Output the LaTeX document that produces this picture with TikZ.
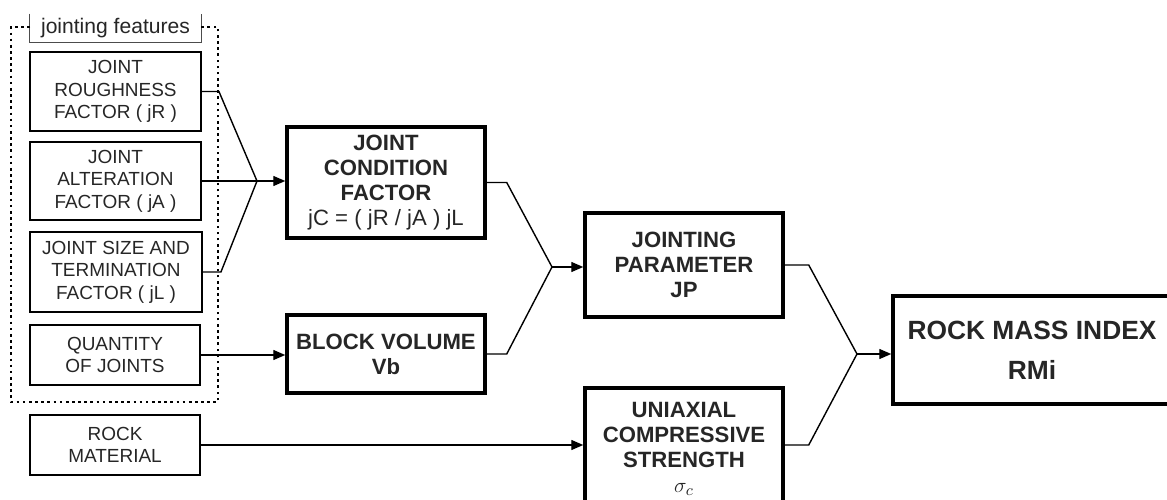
\documentclass[tikz,border=0pt]{standalone}
\usepackage{fontspec}
\setmainfont{Liberation Sans}
\usetikzlibrary{arrows.meta}
\begin{document}
\begin{tikzpicture}[x=0.02cm, y=-0.02cm,
        thinbox/.style={draw, line width=1.1pt, inner sep=0pt, align=center, text=black!85,
            font=\fontsize{10.8}{12.8}\selectfont},
        thickbox/.style={draw, line width=2pt, inner sep=0pt, align=center, text=black!85,
            font=\fontsize{12.6}{14.2}\selectfont\bfseries},
        link/.style={line width=0.8pt},
        feed/.style={link, -{Triangle[length=0.24cm, width=0.2cm]}},
        frame/.style={line width=1.4pt, dash pattern=on 1.5pt off 2pt}]
        \path[use as bounding box, clip] (0,0) rectangle (1167,500);

        \node[inner sep=0pt, minimum width=3.42cm, minimum height=0.56cm, text=black!85,
            font=\fontsize{12}{14}\selectfont] (feat) at (115.5,28) {jointing features};
        \draw[line width=0.8pt, black!70] (feat.north west) |- (feat.south east) -- (feat.north east);
        \draw[frame] (30,27) -- (11,27) -- (11,402) -- (218,402) -- (218,27) -- (201,27);

        \node[thinbox, minimum width=3.42cm, minimum height=1.58cm] (jr) at (115.5,91.5)
            {JOINT\\ROUGHNESS\\FACTOR ( jR )};
        \node[thinbox, minimum width=3.42cm, minimum height=1.56cm] (ja) at (115.5,181)
            {JOINT\\ALTERATION\\FACTOR ( jA )};
        \node[thinbox, minimum width=3.44cm, minimum height=1.6cm] (jl) at (116,272)
            {JOINT SIZE AND\\TERMINATION\\FACTOR ( jL )};
        \node[thinbox, minimum width=3.4cm, minimum height=1.2cm] (qj) at (115,355)
            {QUANTITY\\OF JOINTS};
        \node[thinbox, minimum width=3.4cm, minimum height=1.2cm] (rm) at (115,445)
            {ROCK\\MATERIAL};

        \node[thickbox, minimum width=3.96cm, minimum height=2.22cm] (jc) at (386,182.5)
            {JOINT\\CONDITION\\FACTOR\\{\mdseries jC = ( jR / jA ) jL}};
        \node[thickbox, minimum width=3.96cm, minimum height=1.56cm] (bv) at (386,354)
            {BLOCK VOLUME\\Vb};
        \node[thickbox, minimum width=3.96cm, minimum height=2.08cm] (jp) at (684,265)
            {JOINTING\\PARAMETER\\JP};
        \node[thickbox, minimum width=3.96cm, minimum height=2.44cm] (ucs) at (684,449)
            {UNIAXIAL\\COMPRESSIVE\\STRENGTH\\{\mdseries$\sigma_c$}};
        \node[thickbox, minimum width=5.56cm, minimum height=2.16cm,
            font=\fontsize{15}{22.7}\selectfont\bfseries] (rmi) at (1032,350)
            {ROCK MASS INDEX\\RMi};

        \coordinate (j1) at (257,181);
        \coordinate (j2) at (552,267);
        \coordinate (j3) at (857,354);

        \draw[link] (jr.east) -- ++(17,0) -- (j1);
        \draw[link] (ja.east) -- (j1);
        \draw[link] (jl.east) -- ++(18,0) -- (j1);
        \draw[feed] (j1) -- (jc.west |- j1);
        \draw[feed] (qj.east) -- (bv.west |- qj.east);

        \draw[link] (jc.east) -- ++(20,0) -- (j2);
        \draw[link] (bv.east) -- ++(20,0) -- (j2);
        \draw[feed] (j2) -- (jp.west |- j2);

        \draw[link] (jp.east) -- ++(24,0) -- (j3);
        \draw[link] (ucs.east |- rm.east) -- ++(24,0) -- (j3);
        \draw[feed] (j3) -- (rmi.west |- j3);
        \draw[feed] (rm.east) -- (ucs.west |- rm.east);
\end{tikzpicture}
\end{document}
